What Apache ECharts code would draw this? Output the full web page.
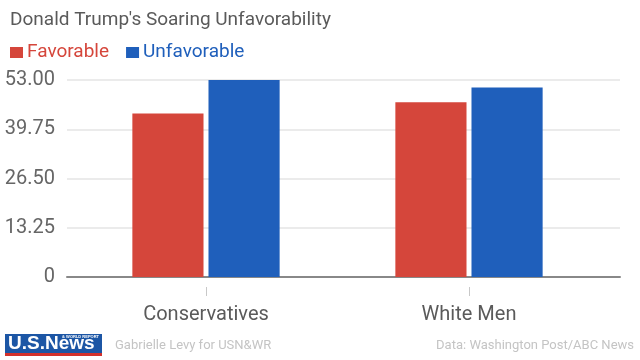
<!DOCTYPE html>
<html>
<head>
<meta charset="utf-8">
<script src="https://cdn.jsdelivr.net/npm/echarts@6/dist/echarts.min.js"></script>
<style>html,body{margin:0;padding:0;background:#fff;}#c{width:640px;height:360px;}</style>
</head>
<body>
<div id="c"></div>
<script>
var categories = ['Conservatives', 'White Men'];
var favorable = [44, 47];
var unfavorable = [53, 51];
var yTickLabels = ['0', '13.25', '26.50', '39.75', '53.00'];
var seriesNames = ['Favorable', 'Unfavorable'];

var RED = '#d5463b', BLUE = '#1f5fbb';
var FONT = 'Roboto, "Noto Sans", sans-serif';
var chart = echarts.init(document.getElementById('c'));
var footer = [
  {type: 'rect', shape: {x: 5, y: 334, width: 97, height: 19}, style: {fill: '#1c56a5'}},
  {type: 'rect', shape: {x: 5, y: 353, width: 97, height: 3}, style: {fill: '#d3312c'}},
  {type: 'text', x: 8, y: 344, style: {text: 'U.S.News', fill: '#fff', font: 'bold 19px "Liberation Sans", Arial, sans-serif', verticalAlign: 'middle', textAlign: 'left'}},
  {type: 'text', x: 99, y: 337, style: {text: '& WORLD REPORT', fill: '#fff', font: 'bold 4px "Liberation Sans", sans-serif', textAlign: 'right', verticalAlign: 'middle'}},
  {type: 'text', x: 115, y: 346, style: {text: 'Gabrielle Levy for USN&WR', fill: '#c4c4c4', font: '13px Roboto, sans-serif', verticalAlign: 'middle'}},
  {type: 'text', x: 634, y: 346, style: {text: 'Data: Washington Post/ABC News', fill: '#c4c4c4', font: '13px Roboto, sans-serif', verticalAlign: 'middle', textAlign: 'right'}}
];
chart.setOption({
  animation: false,
  title: {
    text: "Donald Trump's Soaring Unfavorability",
    left: 5, top: 6,
    textStyle: {fontFamily: FONT, fontSize: 19, fontWeight: 'normal', color: '#5a5a5a'}
  },
  legend: {
    left: 5, top: 38,
    icon: 'rect', itemWidth: 13, itemHeight: 11, itemGap: 17,
    data: [
      {name: seriesNames[0], textStyle: {color: RED}},
      {name: seriesNames[1], textStyle: {color: BLUE}}
    ],
    textStyle: {fontFamily: FONT, fontSize: 19, padding: [0, 0, 0, -1]}
  },
  grid: [
    {left: 67, right: 20, top: 80, bottom: 83},
    {left: 74.5, right: 39.5, top: 80, bottom: 83}
  ],
  xAxis: [
    {gridIndex: 0, type: 'category', data: categories, axisLine: {lineStyle: {color: '#888', width: 2}},
     axisTick: {show: false}, axisLabel: {show: false}},
    {gridIndex: 1, type: 'category', data: categories, offset: 10,
     axisLine: {show: false}, axisTick: {show: false},
     axisLabel: {fontFamily: FONT, fontSize: 20, color: '#5a5a5a', margin: 18}}
  ],
  yAxis: [
    {gridIndex: 0, type: 'value', min: 0, max: 53, interval: 13.25,
     axisLine: {show: false}, axisTick: {show: false},
     splitLine: {lineStyle: {color: '#ebebeb', width: 2}},
     axisLabel: {fontFamily: FONT, fontSize: 20, color: '#666', margin: 12,
       formatter: function (v) { return yTickLabels[Math.round(v / 13.25)]; }}},
    {gridIndex: 1, type: 'value', min: 0, max: 53, interval: 13.25, show: false}
  ],
  series: [
    {name: seriesNames[0], type: 'bar', xAxisIndex: 1, yAxisIndex: 1, data: favorable,
     itemStyle: {color: RED}, barGap: '7%', barCategoryGap: '44%'},
    {name: seriesNames[1], type: 'bar', xAxisIndex: 1, yAxisIndex: 1, data: unfavorable,
     itemStyle: {color: BLUE}, barGap: '7%', barCategoryGap: '44%'}
  ],
  graphic: footer
});
// category ticks, placed through the library's own axis scale
var y0 = chart.convertToPixel({yAxisIndex: 1}, 0);
var ticks = categories.map(function (c) {
  var x = Math.round(chart.convertToPixel({xAxisIndex: 1}, c)) + 0.5;
  return {type: 'line', shape: {x1: x, y1: y0 + 10, x2: x, y2: y0 + 19},
          style: {stroke: '#c8c8c8', lineWidth: 1}};
});
chart.setOption({graphic: footer.concat(ticks)});
</script>
</body>
</html>
